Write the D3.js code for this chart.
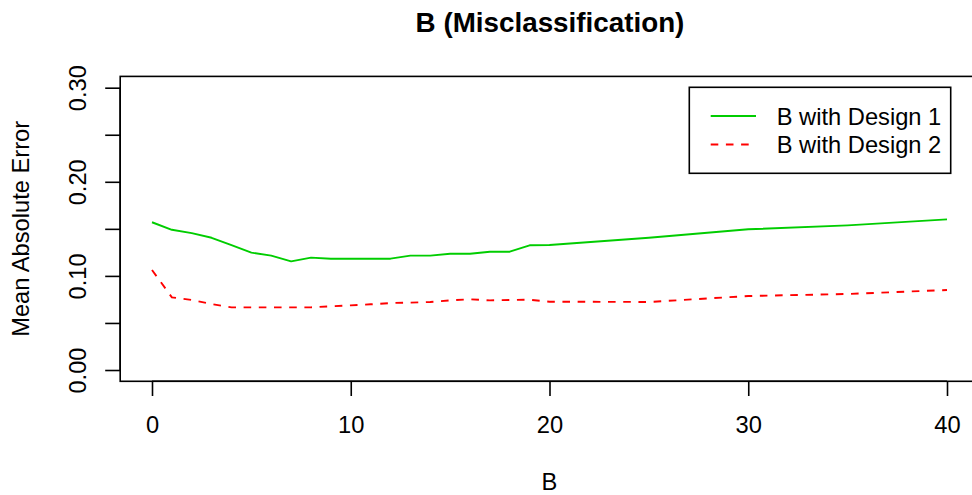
<!DOCTYPE html>
<html>
<head>
<meta charset="utf-8">
<script src="https://cdn.jsdelivr.net/npm/d3@7"></script>
<style>
  html, body { margin: 0; padding: 0; background: #fff; }
  svg { display: block; font-family: "Liberation Sans", Arial, sans-serif; }
</style>
</head>
<body>
<svg id="chart" width="972" height="495"></svg>
<script>
// Number of bootstrap replicates B
const bValues = [0, 1, 2, 3, 4, 5, 6, 7, 8, 9, 10, 11, 12, 13, 14, 15, 16, 17, 18, 19, 20, 25, 30, 35, 40];

// Mean absolute error for each design
const design1 = [0.157, 0.149, 0.1455, 0.1405, 0.1326, 0.1247, 0.1215, 0.1155, 0.1194, 0.1183,
                 0.1183, 0.1183, 0.1183, 0.1215, 0.1215, 0.1236, 0.1236, 0.1257, 0.1257, 0.1325,
                 0.1328, 0.1405, 0.1495, 0.1537, 0.1601];
const design2 = [0.1063, 0.0772, 0.0744, 0.0701, 0.0666, 0.0666, 0.0666, 0.0666, 0.0666, 0.0677,
                 0.0687, 0.0698, 0.0712, 0.0716, 0.0723, 0.074, 0.0751, 0.074, 0.0744, 0.0747,
                 0.0726, 0.0723, 0.0786, 0.0808, 0.085];

const seriesNames = ["B with Design 1", "B with Design 2"];
const xTicks = [0, 10, 20, 30, 40];
const yTicks = [0, 0.05, 0.10, 0.15, 0.20, 0.25, 0.30];
const yTickLabels = ["0.00", "", "0.10", "", "0.20", "", "0.30"];

const titleText = "B (Misclassification)";
const xLabel = "B";
const yLabel = "Mean Absolute Error";

const svg = d3.select("#chart");

// Data ranges padded by 4% on each side
const xDom = [0, 40], yDom = [0, 0.3];
const xPad = (xDom[1] - xDom[0]) * 0.04, yPad = (yDom[1] - yDom[0]) * 0.04;
const x = d3.scaleLinear().domain([xDom[0] - xPad, xDom[1] + xPad]).range([120.2, 978.8]);
const y = d3.scaleLinear().domain([yDom[0] - yPad, yDom[1] + yPad]).range([381.3, 76.4]);

const baseFont = 23.7;
const lw = 1.9;

// Plot frame
svg.append("rect")
  .attr("x", x.range()[0]).attr("y", y.range()[1])
  .attr("width", x.range()[1] - x.range()[0])
  .attr("height", y.range()[0] - y.range()[1])
  .attr("fill", "none").attr("stroke", "#000").attr("stroke-width", 1.6);

// X axis
const xAxis = d3.axisBottom(x).tickValues(xTicks).tickSize(14.7).tickPadding(0).tickFormat(d3.format("d"));
const gx = svg.append("g").attr("transform", `translate(0,${y.range()[0]})`).call(xAxis);
gx.select(".domain").attr("d", `M${x(0)},0H${x(40)}`).attr("stroke-width", 1.6);
gx.selectAll(".tick line").attr("stroke-width", 1.6);
gx.selectAll(".tick text")
  .attr("font-size", baseFont).attr("font-family", "Liberation Sans, Arial, sans-serif")
  .attr("fill", "#000").attr("dy", null).attr("y", 52);

// Y axis
const yAxis = d3.axisLeft(y).tickValues(yTicks).tickSize(15).tickPadding(0)
  .tickFormat((d, i) => yTickLabels[i]);
const gy = svg.append("g").attr("transform", `translate(${x.range()[0]},0)`).call(yAxis);
gy.select(".domain").attr("d", `M0,${y(0)}V${y(0.3)}`).attr("stroke-width", 1.6);
gy.selectAll(".tick line").attr("stroke-width", 1.6);
gy.selectAll(".tick text")
  .attr("font-size", baseFont).attr("font-family", "Liberation Sans, Arial, sans-serif")
  .attr("fill", "#000")
  .attr("x", null).attr("dy", null)
  .attr("text-anchor", "middle")
  .attr("transform", "translate(-34,0) rotate(-90)");

// Lines
const line = d3.line().x((d, i) => x(bValues[i])).y(d => y(d));
svg.append("path").datum(design1)
  .attr("d", line).attr("fill", "none")
  .attr("stroke", "#00CD00").attr("stroke-width", lw).attr("stroke-linejoin", "round");
svg.append("path").datum(design2)
  .attr("d", line).attr("fill", "none")
  .attr("stroke", "#FF0000").attr("stroke-width", lw)
  .attr("stroke-dasharray", "7.6,7.6");

// Title and axis labels
svg.append("text").attr("x", 550).attr("y", 31.5)
  .attr("text-anchor", "middle").attr("font-weight", "bold")
  .attr("font-size", 27.8).text(titleText);
svg.append("text").attr("x", 549.5).attr("y", 490)
  .attr("text-anchor", "middle").attr("font-size", baseFont).text(xLabel);
svg.append("text")
  .attr("transform", `translate(28.5,${(y.range()[0] + y.range()[1]) / 2}) rotate(-90)`)
  .attr("text-anchor", "middle").attr("font-size", baseFont).text(yLabel);

// Legend
const legend = svg.append("g");
legend.append("rect").attr("x", 689.3).attr("y", 87.3).attr("width", 261.4).attr("height", 86)
  .attr("fill", "#fff").attr("stroke", "#000").attr("stroke-width", 1.6);
const legendStyles = [
  { color: "#00CD00", dash: null },
  { color: "#FF0000", dash: "7.6,7.6" }
];
seriesNames.forEach((name, i) => {
  const cy = 116 + i * 28.5;
  legend.append("line").attr("x1", 710.7).attr("x2", 756).attr("y1", cy).attr("y2", cy)
    .attr("stroke", legendStyles[i].color).attr("stroke-width", lw)
    .attr("stroke-dasharray", legendStyles[i].dash);
  legend.append("text").attr("x", 776.7).attr("y", cy + 8.8)
    .attr("font-size", baseFont).text(name);
});
</script>
</body>
</html>
